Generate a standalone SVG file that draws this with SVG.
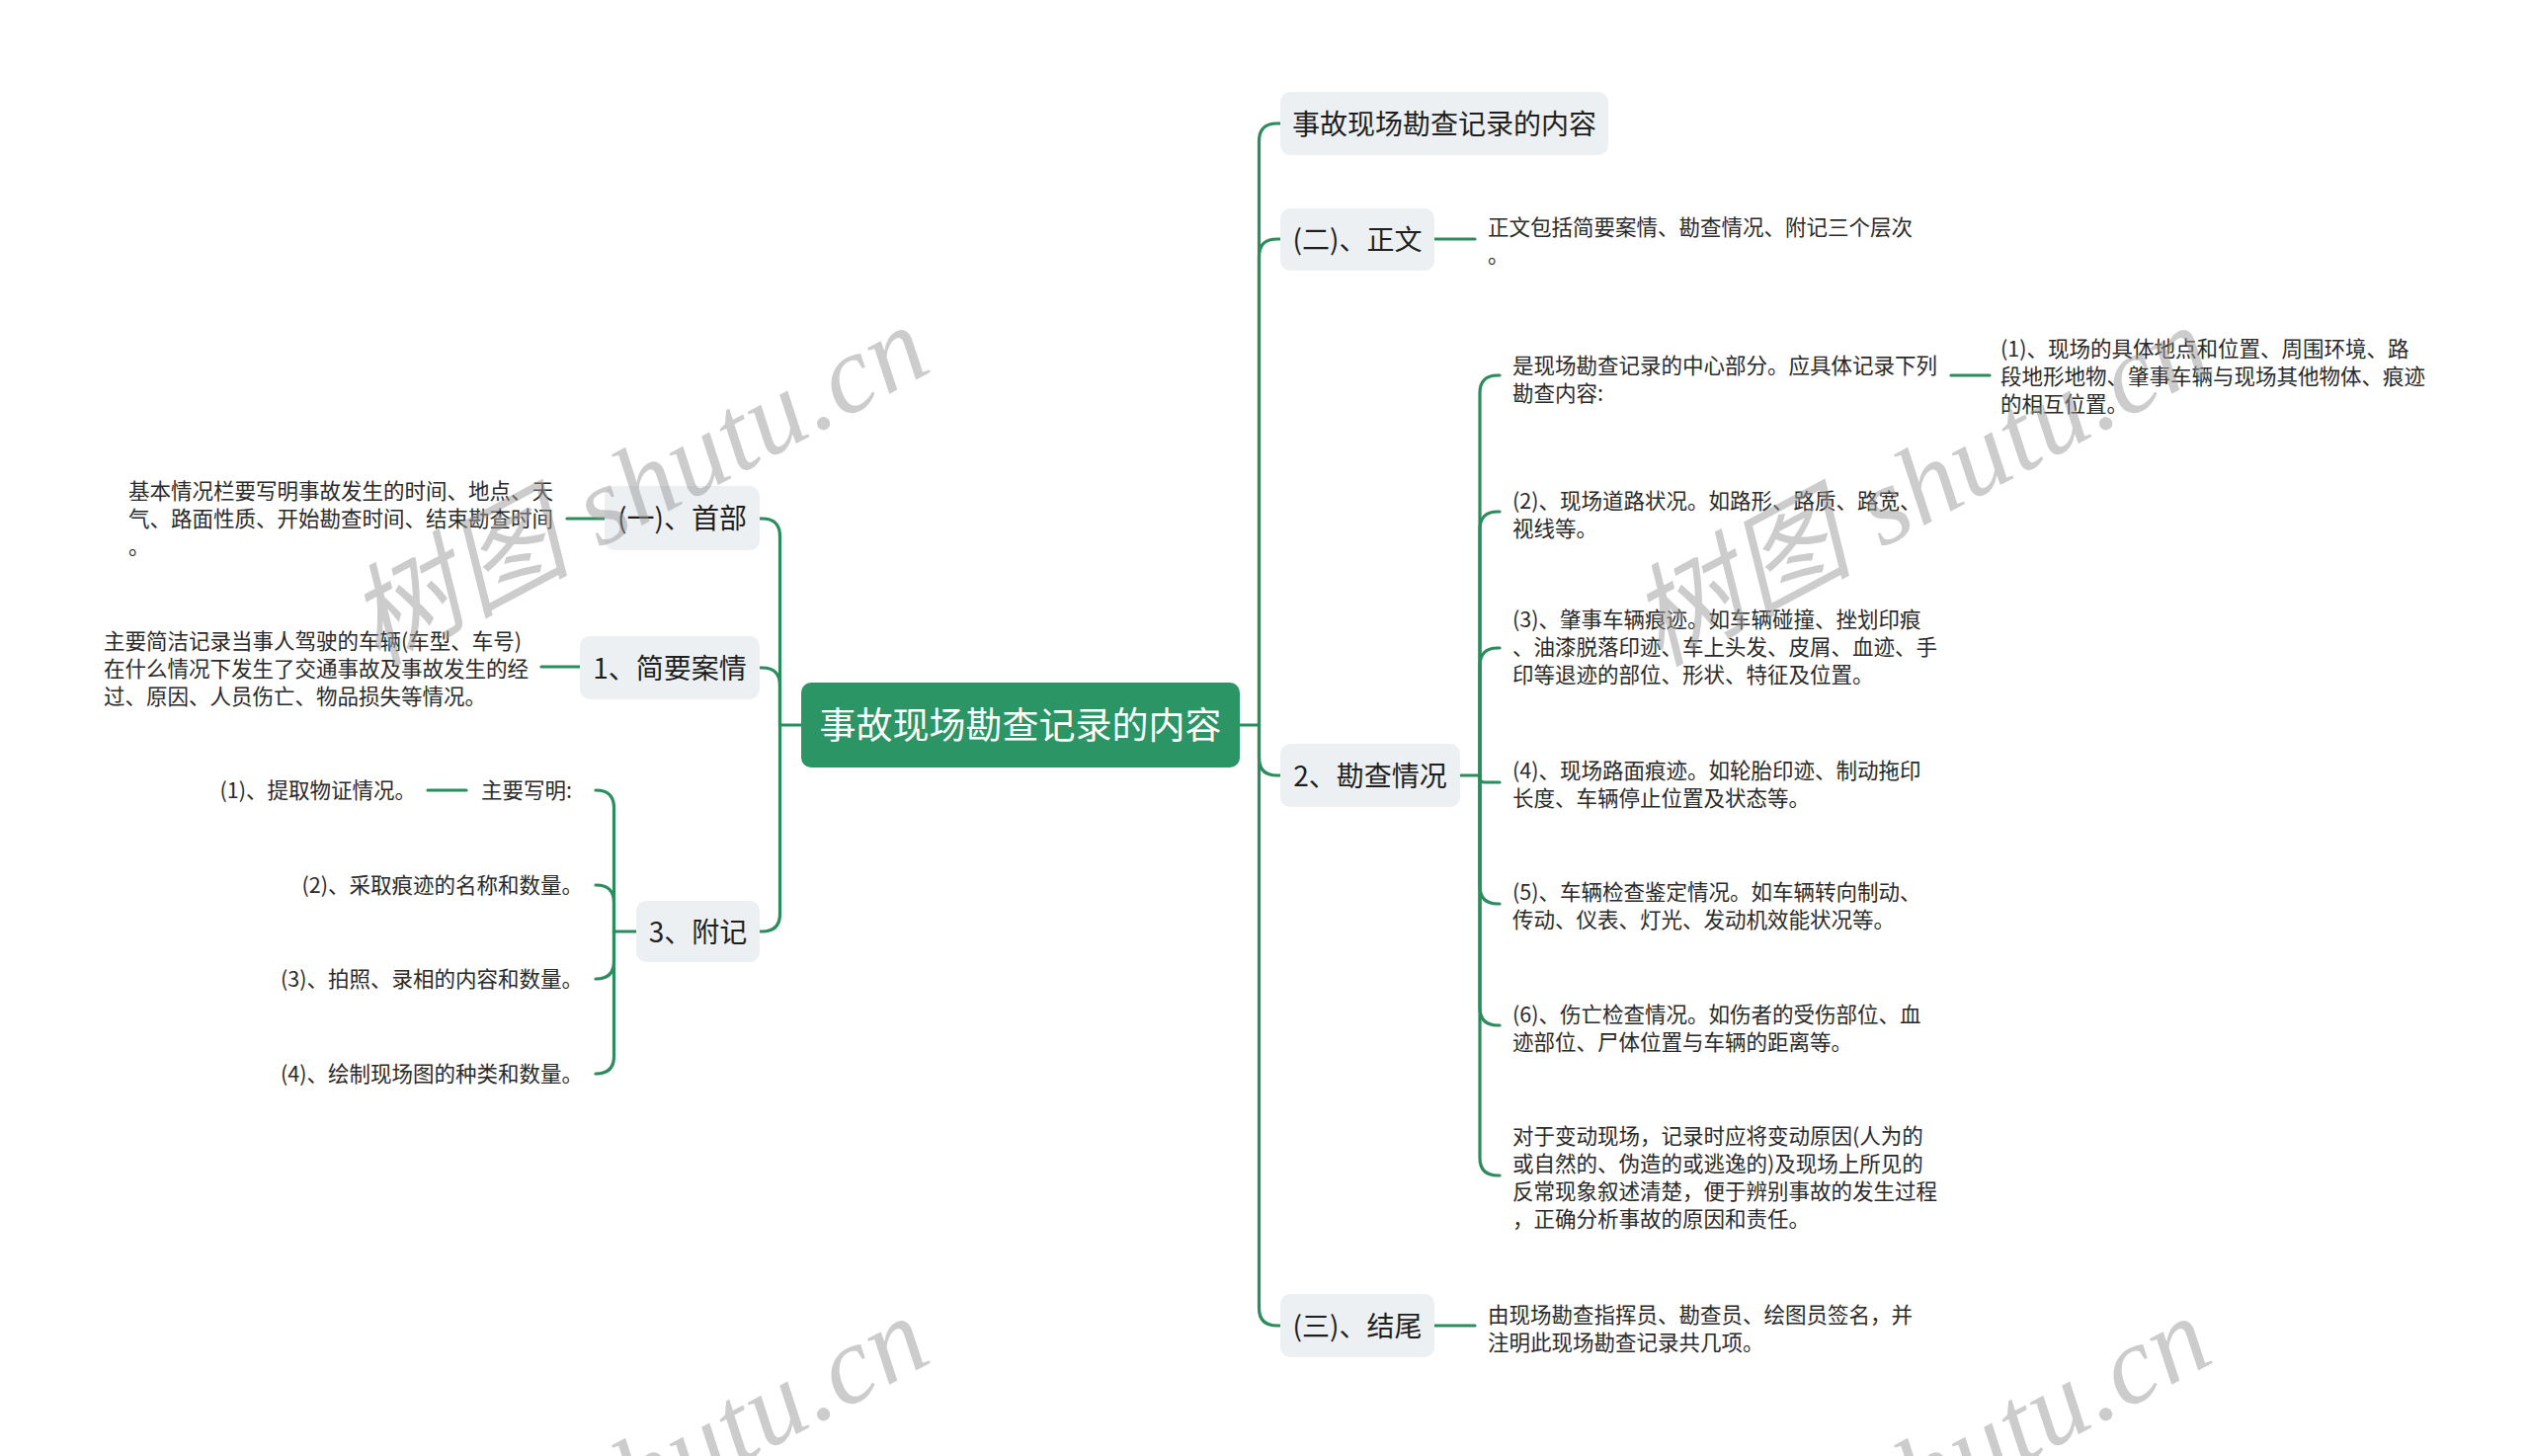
<svg xmlns="http://www.w3.org/2000/svg" width="2560" height="1474" viewBox="0 0 2560 1474">
<style>
  .bg{fill:#ffffff}
  .box{fill:#edf0f3}
  .root{fill:#2b9566}
  .nt{font-family:"Noto Sans CJK SC","Liberation Sans",sans-serif;font-size:28px;fill:#1e1e1e;text-anchor:middle}
  .rt{font-family:"Noto Sans CJK SC","Liberation Sans",sans-serif;font-size:37px;fill:#ffffff;text-anchor:middle}
  .lf{font-family:"Noto Sans CJK SC","Liberation Sans",sans-serif;font-size:21.5px;fill:#2a2a2a}
  .end{text-anchor:end}
  .cn path,.cn line{fill:none;stroke:#2b8c5e;stroke-width:3.2;stroke-linecap:round}
  .wm{font-family:"Liberation Serif","Noto Sans CJK SC",serif;font-size:112px;font-style:italic;fill:#9a9a9a;opacity:0.5}
</style>
<rect class="bg" x="0" y="0" width="2560" height="1474"/>

<g id="connectors" class="cn">
  <!-- right side -->
  <line x1="1255" y1="734" x2="1274.5" y2="734"/>
  <path d="M1274.5,734 V143 Q1274.5,125 1292.5,125 H1296"/>
  <path d="M1274.5,734 V260 Q1274.5,242 1292.5,242 H1296"/>
  <path d="M1274.5,734 V767 Q1274.5,785 1292.5,785 H1296"/>
  <path d="M1274.5,734 V1324 Q1274.5,1342 1292.5,1342 H1296"/>
  <line x1="1452" y1="242" x2="1493" y2="242"/>
  <line x1="1452" y1="1342" x2="1493" y2="1342"/>
  <line x1="1478" y1="785" x2="1498" y2="785"/>
  <path d="M1498,785 V398 Q1498,380 1516,380 H1518"/>
  <path d="M1498,785 V536 Q1498,518 1516,518 H1518"/>
  <path d="M1498,785 V674 Q1498,656 1516,656 H1518"/>
  <path d="M1498,785 V788 Q1498,792 1503,792 H1518"/>
  <path d="M1498,785 V897 Q1498,915 1516,915 H1518"/>
  <path d="M1498,785 V1020 Q1498,1038 1516,1038 H1518"/>
  <path d="M1498,785 V1172 Q1498,1190 1516,1190 H1518"/>
  <line x1="1975" y1="380" x2="2014" y2="380"/>
  <!-- left side -->
  <line x1="811" y1="734" x2="789.5" y2="734"/>
  <path d="M789.5,734 V543 Q789.5,525 771.5,525 H769"/>
  <path d="M789.5,734 V694 Q789.5,676 771.5,676 H769"/>
  <path d="M789.5,734 V925 Q789.5,943 771.5,943 H769"/>
  <line x1="574" y1="525" x2="612" y2="525"/>
  <line x1="548" y1="675" x2="587" y2="675"/>
  <line x1="644" y1="943" x2="621.5" y2="943"/>
  <path d="M621.5,943 V818 Q621.5,800 603.5,800 H603"/>
  <path d="M621.5,943 V914 Q621.5,896 603.5,896 H603"/>
  <path d="M621.5,943 V973 Q621.5,991 603.5,991 H603"/>
  <path d="M621.5,943 V1069 Q621.5,1087 603.5,1087 H603"/>
  <line x1="433" y1="800" x2="472" y2="800"/>
</g>

<g id="root">
  <rect class="root" x="811" y="691" width="444" height="86" rx="10"/>
  <text class="rt" x="1033" y="748">事故现场勘查记录的内容</text>
</g>

<g id="n-title">
  <rect class="box" x="1296" y="93" width="332" height="64" rx="10"/>
  <text class="nt" x="1462" y="135.5">事故现场勘查记录的内容</text>
</g>
<g id="n-zhengwen">
  <rect class="box" x="1296" y="211" width="156" height="63" rx="10"/>
  <text class="nt" x="1374" y="253">(二)、正文</text>
</g>
<g id="n-zhengwen-leaf">
  <text class="lf" x="1506" y="238">正文包括简要案情、勘查情况、附记三个层次</text>
  <text class="lf" x="1506" y="266">。</text>
</g>
<g id="n-kancha">
  <rect class="box" x="1296" y="753" width="182" height="64" rx="10"/>
  <text class="nt" x="1387" y="795.5">2、勘查情况</text>
</g>
<g id="k1">
  <text class="lf" x="1531" y="378">是现场勘查记录的中心部分。应具体记录下列</text>
  <text class="lf" x="1531" y="406">勘查内容:</text>
</g>
<g id="k1a">
  <text class="lf" x="2025" y="361">(1)、现场的具体地点和位置、周围环境、路</text>
  <text class="lf" x="2025" y="389">段地形地物、肇事车辆与现场其他物体、痕迹</text>
  <text class="lf" x="2025" y="417">的相互位置。</text>
</g>
<g id="k2">
  <text class="lf" x="1531" y="515">(2)、现场道路状况。如路形、路质、路宽、</text>
  <text class="lf" x="1531" y="543">视线等。</text>
</g>
<g id="k3">
  <text class="lf" x="1531" y="635">(3)、肇事车辆痕迹。如车辆碰撞、挫划印痕</text>
  <text class="lf" x="1531" y="663">、油漆脱落印迹、车上头发、皮屑、血迹、手</text>
  <text class="lf" x="1531" y="691">印等退迹的部位、形状、特征及位置。</text>
</g>
<g id="k4">
  <text class="lf" x="1531" y="788">(4)、现场路面痕迹。如轮胎印迹、制动拖印</text>
  <text class="lf" x="1531" y="816">长度、车辆停止位置及状态等。</text>
</g>
<g id="k5">
  <text class="lf" x="1531" y="911">(5)、车辆检查鉴定情况。如车辆转向制动、</text>
  <text class="lf" x="1531" y="939">传动、仪表、灯光、发动机效能状况等。</text>
</g>
<g id="k6">
  <text class="lf" x="1531" y="1035">(6)、伤亡检查情况。如伤者的受伤部位、血</text>
  <text class="lf" x="1531" y="1063">迹部位、尸体位置与车辆的距离等。</text>
</g>
<g id="k7">
  <text class="lf" x="1531" y="1158">对于变动现场，记录时应将变动原因(人为的</text>
  <text class="lf" x="1531" y="1186">或自然的、伪造的或逃逸的)及现场上所见的</text>
  <text class="lf" x="1531" y="1214">反常现象叙述清楚，便于辨别事故的发生过程</text>
  <text class="lf" x="1531" y="1242">，正确分析事故的原因和责任。</text>
</g>
<g id="n-jiewei">
  <rect class="box" x="1296" y="1310" width="156" height="64" rx="10"/>
  <text class="nt" x="1374" y="1352.5">(三)、结尾</text>
</g>
<g id="n-jiewei-leaf">
  <text class="lf" x="1506" y="1339">由现场勘查指挥员、勘查员、绘图员签名，并</text>
  <text class="lf" x="1506" y="1367">注明此现场勘查记录共几项。</text>
</g>

<g id="n-shoubu">
  <rect class="box" x="612" y="492" width="157" height="65" rx="10"/>
  <text class="nt" x="690.5" y="535">(一)、首部</text>
</g>
<g id="n-shoubu-leaf">
  <text class="lf" x="130" y="505">基本情况栏要写明事故发生的时间、地点、天</text>
  <text class="lf" x="130" y="533">气、路面性质、开始勘查时间、结束勘查时间</text>
  <text class="lf" x="130" y="561">。</text>
</g>
<g id="n-jianyao">
  <rect class="box" x="587" y="644" width="182" height="64" rx="10"/>
  <text class="nt" x="678" y="686.5">1、简要案情</text>
</g>
<g id="n-jianyao-leaf">
  <text class="lf" x="105" y="657">主要简洁记录当事人驾驶的车辆(车型、车号)</text>
  <text class="lf" x="105" y="685">在什么情况下发生了交通事故及事故发生的经</text>
  <text class="lf" x="105" y="713">过、原因、人员伤亡、物品损失等情况。</text>
</g>
<g id="n-fuji">
  <rect class="box" x="644" y="912" width="125" height="62" rx="10"/>
  <text class="nt" x="706.5" y="953.5">3、附记</text>
</g>
<g id="f1"><text class="lf end" x="579" y="808">主要写明:</text></g>
<g id="f1a"><text class="lf end" x="421" y="808">(1)、提取物证情况。</text></g>
<g id="f2"><text class="lf end" x="590" y="904">(2)、采取痕迹的名称和数量。</text></g>
<g id="f3"><text class="lf end" x="590" y="999">(3)、拍照、录相的内容和数量。</text></g>
<g id="f4"><text class="lf end" x="590" y="1095">(4)、绘制现场图的种类和数量。</text></g>

<g id="watermarks">
  <text class="wm" transform="translate(381,675) rotate(-28)" textLength="640" lengthAdjust="spacing">树图 shutu.cn</text>
  <text class="wm" transform="translate(1679,675) rotate(-28)" textLength="640" lengthAdjust="spacing">树图 shutu.cn</text>
  <text class="wm" transform="translate(381,1678) rotate(-28)" textLength="640" lengthAdjust="spacing">树图 shutu.cn</text>
  <text class="wm" transform="translate(1679,1678) rotate(-28)" textLength="640" lengthAdjust="spacing">树图 shutu.cn</text>
</g>
</svg>
